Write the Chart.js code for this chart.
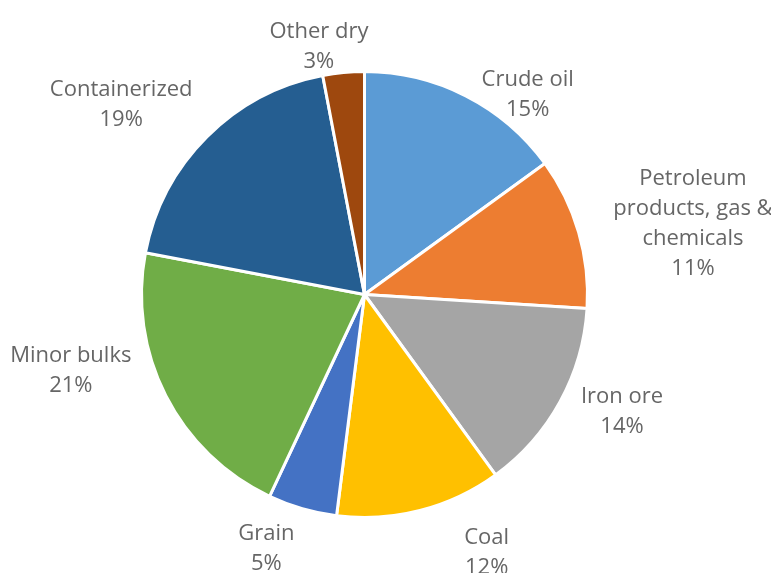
<!DOCTYPE html>
<html lang="en">
<head>
    <meta charset="UTF-8">
    <title>Seaborne trade by cargo</title>
    <script src="https://cdn.jsdelivr.net/npm/chart.js"></script>
    <style>
        body { margin: 0; background: #fff; }
        canvas { display: block; }
    </style>
</head>
<body>
<canvas id="myChart" width="771" height="573"></canvas>

<script>
    // cargo shares (percent)
    const cargoTypes = ['Crude oil', 'Petroleum products, gas & chemicals', 'Iron ore', 'Coal', 'Grain', 'Minor bulks', 'Containerized', 'Other dry'];
    const shares = [15, 11, 14, 12, 5, 21, 19, 3];
    // how each label is wrapped
    const labelLines = [['Crude oil'], ['Petroleum', 'products, gas &', 'chemicals'], ['Iron ore'], ['Coal'], ['Grain'], ['Minor bulks'], ['Containerized'], ['Other dry']];

    const sliceColors = ['#5B9BD5', '#ED7D31', '#A5A5A5', '#FFC000', '#4472C4', '#70AD47', '#255E91', '#9E480E'];

    // small shifts so the labels sit where Excel put them
    const labelNudge = [[43, 36], [27, 17], [14, -17], [57, 4], [-25, 2], [-29, -59], [-50, 4], [-21, 12]];

    const outsideLabels = {
        id: 'outsideLabels',
        afterDatasetsDraw(chart) {
            const ctx = chart.ctx;
            const arcs = chart.getDatasetMeta(0).data;
            const total = shares.reduce((a, b) => a + b, 0);
            const lineH = 30;
            ctx.save();
            ctx.font = '22px "Open Sans"';
            ctx.fillStyle = '#666666';
            ctx.textAlign = 'center';
            ctx.textBaseline = 'middle';
            arcs.forEach((arc, i) => {
                const lines = labelLines[i].concat([Math.round(shares[i] / total * 100) + '%']);
                const w = Math.max(...lines.map(t => ctx.measureText(t).width));
                const h = lines.length * lineH;
                const mid = (arc.startAngle + arc.endAngle) / 2;
                const dx = Math.cos(mid), dy = Math.sin(mid);
                const d = Math.min(Math.abs(dx) > 0.001 ? w / 2 / Math.abs(dx) : 1e9,
                                   Math.abs(dy) > 0.001 ? h / 2 / Math.abs(dy) : 1e9);
                const dist = arc.outerRadius + 8 + d;
                const cx = arc.x + dx * dist + labelNudge[i][0];
                const cy = arc.y + dy * dist + labelNudge[i][1];
                lines.forEach((t, k) => {
                    ctx.fillText(t, cx, cy - h / 2 + lineH / 2 + k * lineH);
                });
            });
            ctx.restore();
        }
    };

    const ctx = document.getElementById('myChart').getContext('2d');
    new Chart(ctx, {
        type: 'pie',
        data: {
            labels: cargoTypes,
            datasets: [{
                data: shares,
                backgroundColor: sliceColors,
                borderColor: '#ffffff',
                borderWidth: 3
            }]
        },
        options: {
            responsive: false,
            animation: false,
            layout: {
                padding: {left: 140, right: 182, top: 70, bottom: 54}
            },
            plugins: {
                legend: {display: false},
                tooltip: {enabled: false}
            }
        },
        plugins: [outsideLabels]
    });
</script>
</body>
</html>
